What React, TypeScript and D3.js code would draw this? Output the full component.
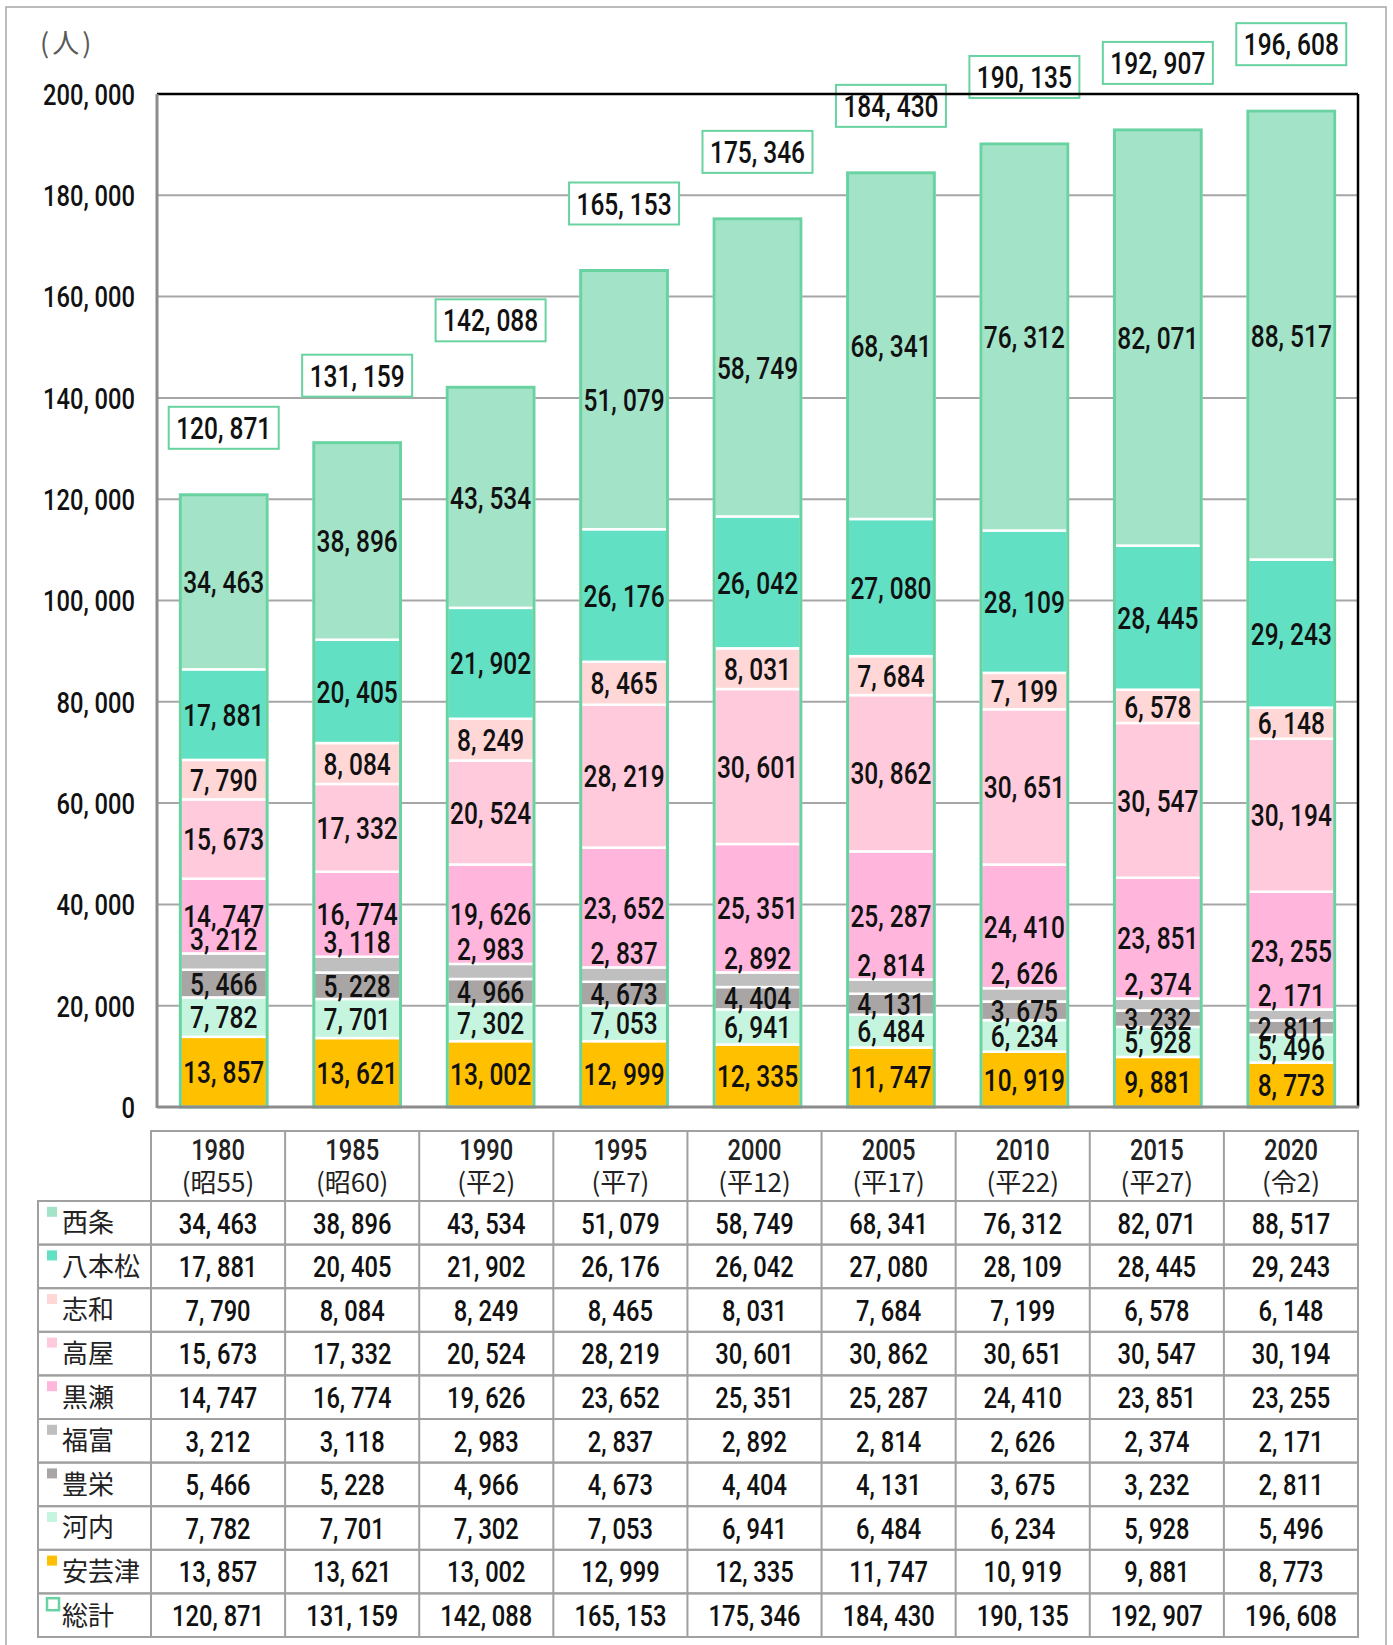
import React from "react";
import * as d3 from "d3";

// 地区別人口（人）
const years = ["1980", "1985", "1990", "1995", "2000", "2005", "2010", "2015", "2020"];
const eras = ["昭55", "昭60", "平2", "平7", "平12", "平17", "平22", "平27", "令2"];

const saijo = [34463, 38896, 43534, 51079, 58749, 68341, 76312, 82071, 88517];
const hachihonmatsu = [17881, 20405, 21902, 26176, 26042, 27080, 28109, 28445, 29243];
const shiwa = [7790, 8084, 8249, 8465, 8031, 7684, 7199, 6578, 6148];
const takaya = [15673, 17332, 20524, 28219, 30601, 30862, 30651, 30547, 30194];
const kurose = [14747, 16774, 19626, 23652, 25351, 25287, 24410, 23851, 23255];
const fukutomi = [3212, 3118, 2983, 2837, 2892, 2814, 2626, 2374, 2171];
const toyosaka = [5466, 5228, 4966, 4673, 4404, 4131, 3675, 3232, 2811];
const kouchi = [7782, 7701, 7302, 7053, 6941, 6484, 6234, 5928, 5496];
const akitsu = [13857, 13621, 13002, 12999, 12335, 11747, 10919, 9881, 8773];
const total = [120871, 131159, 142088, 165153, 175346, 184430, 190135, 192907, 196608];

const yTicks = [0, 20000, 40000, 60000, 80000, 100000, 120000, 140000, 160000, 180000, 200000];

// bottom -> top stacking order
const series = [
  { name: "安芸津", values: akitsu, color: "#FFC000" },
  { name: "河内", values: kouchi, color: "#C5F5DE" },
  { name: "豊栄", values: toyosaka, color: "#A9A5A5" },
  { name: "福富", values: fukutomi, color: "#BFBFBF" },
  { name: "黒瀬", values: kurose, color: "#FFB5DC" },
  { name: "高屋", values: takaya, color: "#FFCADB" },
  { name: "志和", values: shiwa, color: "#FFD7D7" },
  { name: "八本松", values: hachihonmatsu, color: "#62E0C4" },
  { name: "西条", values: saijo, color: "#A3E4C9" },
];
const totalColor = "#68D3A1";

const W = 1393;
const H = 1645;
const plot = { left: 157, right: 1358, top: 94, bottom: 1107 };
const table = { left: 151, right: 1358, top: 1131, headBottom: 1201, rowH: 43.6, labelLeft: 38 };

const NUM_FONT = "Roboto, 'Noto Sans', sans-serif";
const JP_FONT = "'Noto Sans CJK JP', 'Noto Sans', sans-serif";
const SX = 0.79; // condensed look of the original digits

const fmt = (v: number) => d3.format(",")(v).replace(/,/g, ", ");

function Num({ x, y, size = 30, anchor = "middle", fill = "#111", children }: any) {
  return (
    <text
      transform={`translate(${x},${y}) scale(${SX},1)`}
      dy="0.36em"
      textAnchor={anchor}
      fontFamily={NUM_FONT}
      fontSize={size}
      fontWeight={500}
      fill={fill}
    >
      {children}
    </text>
  );
}

export default function App() {
  const x = d3.scaleBand().domain(years).range([plot.left, plot.right]).paddingInner(0.35).paddingOuter(0.175);
  const y = d3.scaleLinear().domain([0, 200000]).range([plot.bottom, plot.top]);
  const tx = d3.scaleBand().domain(years).range([table.left, table.right]);

  const rows = years.map((yr, i) => {
    const r: any = { year: yr };
    series.forEach((s) => (r[s.name] = s.values[i]));
    return r;
  });
  const stacked = d3.stack().keys(series.map((s) => s.name))(rows);

  // table rows top -> bottom
  const tableRows = [...series].reverse().map((s) => ({ name: s.name, values: s.values, color: s.color, hollow: false }));
  tableRows.push({ name: "総計", values: total, color: totalColor, hollow: true });
  const tableBottom = table.headBottom + tableRows.length * table.rowH;

  return (
    <>
      <style>{`body{margin:0}`}</style>
      <svg width={W} height={H} style={{ display: "block", background: "#fff" }}>
        <rect x={6} y={7} width={1380} height={H + 10} fill="none" stroke="#a6a6a6" strokeWidth={1.5} />

        <text x={40} y={43} dy="0.36em" fontFamily={JP_FONT} fontSize={27} letterSpacing={3} fill="#595959">(人)</text>

        {/* gridlines */}
        {yTicks.filter((t) => t > 0 && t < 200000).map((t) => (
          <line key={t} x1={plot.left} x2={plot.right} y1={y(t)} y2={y(t)} stroke="#a6a6a6" strokeWidth={2} />
        ))}

        {/* y tick labels */}
        {yTicks.map((t) => (
          <Num key={t} x={135} y={y(t)} anchor="end" size={30}>{fmt(t)}</Num>
        ))}

        {/* stacked segments */}
        {stacked.map((layer, li) => (
          <g key={layer.key}>
            {layer.map((d, i) => (
              <rect
                key={i}
                x={x(years[i])}
                y={y(d[1])}
                width={x.bandwidth()}
                height={y(d[0]) - y(d[1])}
                fill={series[li].color}
                stroke="#fff"
                strokeWidth={2.5}
              />
            ))}
          </g>
        ))}

        {/* total outline */}
        {total.map((v, i) => (
          <rect key={i} x={x(years[i])} y={y(v)} width={x.bandwidth()} height={y(0) - y(v)} fill="none" stroke={totalColor} strokeWidth={3} />
        ))}

        {/* segment labels */}
        {stacked.map((layer, li) => (
          <g key={"l" + layer.key}>
            {layer.map((d, i) => {
              const cx = (x(years[i]) as number) + x.bandwidth() / 2;
              const cy = series[li].name === "福富" ? y(d[1]) - 15 : (y(d[0]) + y(d[1])) / 2;
              return (
                <Num key={i} x={cx} y={cy} size={31}>{fmt(series[li].values[i])}</Num>
              );
            })}
          </g>
        ))}

        {/* total labels */}
        {total.map((v, i) => {
          const cx = (x(years[i]) as number) + x.bandwidth() / 2;
          const cy = y(v) - 67;
          return (
            <g key={"t" + i}>
              <rect x={cx - 55} y={cy - 21} width={110} height={42} fill="#fff" stroke={totalColor} strokeWidth={2} />
              <Num x={cx} y={cy} size={31}>{fmt(v)}</Num>
            </g>
          );
        })}

        {/* plot frame */}
        <line x1={plot.left} x2={plot.right} y1={plot.top} y2={plot.top} stroke="#000" strokeWidth={2.5} />
        <line x1={plot.right} x2={plot.right} y1={plot.top} y2={plot.bottom} stroke="#000" strokeWidth={2.5} />
        <line x1={plot.left} x2={plot.left} y1={plot.top} y2={plot.bottom + 1} stroke="#8c8c8c" strokeWidth={3} />
        <line x1={plot.left} x2={plot.right + 1} y1={plot.bottom} y2={plot.bottom} stroke="#8c8c8c" strokeWidth={3} />

        {/* data table */}
        <g stroke="#a0a0a0" strokeWidth={2} fill="none">
          <rect x={table.left} y={table.top} width={table.right - table.left} height={table.headBottom - table.top} />
          {tableRows.map((r, ri) => (
            <rect key={ri} x={table.labelLeft} y={table.headBottom + ri * table.rowH} width={table.right - table.labelLeft} height={table.rowH} />
          ))}
          {years.slice(1).map((yr) => (
            <line key={yr} x1={tx(yr)} x2={tx(yr)} y1={table.top} y2={tableBottom} />
          ))}
          <line x1={table.left} x2={table.left} y1={table.top} y2={tableBottom} />
        </g>

        {years.map((yr, i) => {
          const cx = (tx(yr) as number) + tx.bandwidth() / 2;
          return (
            <g key={"h" + yr}>
              <Num x={cx} y={1149} size={30} fill="#222">{yr}</Num>
              <text x={cx} y={1183} dy="0.36em" textAnchor="middle" fontFamily={JP_FONT} fontSize={26} fill="#222">
                {"(" + eras[i] + ")"}
              </text>
            </g>
          );
        })}

        {tableRows.map((r, ri) => {
          const cy = table.headBottom + ri * table.rowH + table.rowH / 2;
          return (
            <g key={"r" + r.name}>
              {r.hollow ? (
                <rect x={47} y={cy - 17} width={12} height={12} fill="#fff" stroke={r.color} strokeWidth={2.5} />
              ) : (
                <rect x={47} y={cy - 16} width={10} height={10} fill={r.color} />
              )}
              <text x={62} y={cy} dy="0.36em" fontFamily={JP_FONT} fontSize={26} fill="#222">{r.name}</text>
              {r.values.map((v, i) => (
                <Num key={i} x={(tx(years[i]) as number) + tx.bandwidth() / 2} y={cy} size={30}>{fmt(v)}</Num>
              ))}
            </g>
          );
        })}
      </svg>
    </>
  );
}
